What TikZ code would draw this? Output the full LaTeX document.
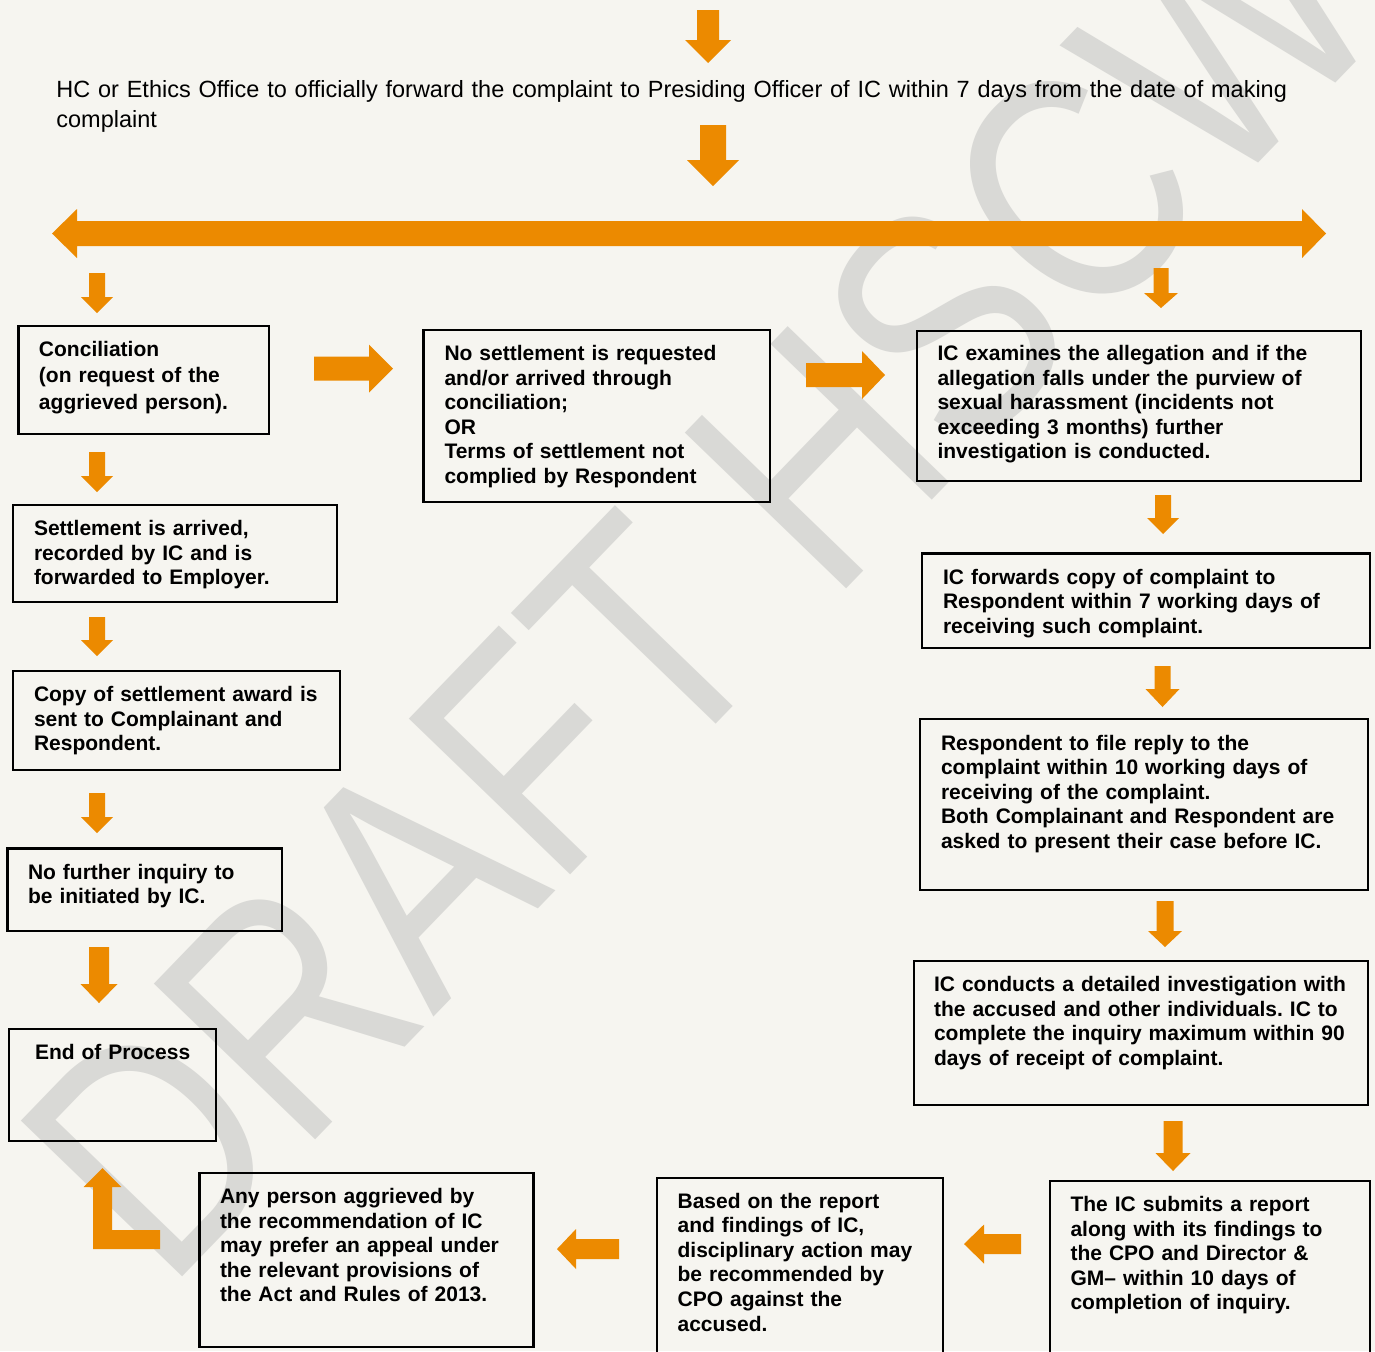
\documentclass[tikz,border=0pt]{standalone}
\usepackage{fontspec}
\setmainfont{Liberation Sans}
\frenchspacing
\definecolor{orng}{RGB}{236,138,0}
\definecolor{bgc}{RGB}{246,245,240}
\definecolor{wmgray}{RGB}{217,217,214}
\newdimen\pxu \pxu=0.5pt
\newcommand{\ArrD}[6]{\fill[orng] (#1-#4,#2) -- (#1+#4,#2) -- (#1+#4,#3-#6) -- (#1+#5,#3-#6) -- (#1,#3) -- (#1-#5,#3-#6) -- (#1-#4,#3-#6) -- cycle;}
\newcommand{\ArrR}[6]{\fill[orng] (#2,#1-#4) -- (#3-#6,#1-#4) -- (#3-#6,#1-#5) -- (#3,#1) -- (#3-#6,#1+#5) -- (#3-#6,#1+#4) -- (#2,#1+#4) -- cycle;}
\newcommand{\ArrL}[6]{\fill[orng] (#2,#1-#4) -- (#3+#6,#1-#4) -- (#3+#6,#1-#5) -- (#3,#1) -- (#3+#6,#1+#5) -- (#3+#6,#1+#4) -- (#2,#1+#4) -- cycle;}
\tikzset{
  boxst/.style={draw=black, line width=1.2pt, anchor=north west, inner sep=0pt, outer sep=0pt},
  btxt/.style={anchor=base west, inner sep=0pt, outer sep=0pt, text width=240pt, align=left,
    font=\bfseries\fontsize{10.5pt}{12.3pt}\selectfont},
  wm/.style={anchor=base west, inner sep=0pt, text=wmgray, font=\fontsize{132.5pt}{140pt}\selectfont},
}
\begin{document}
\begin{tikzpicture}[x=0.5pt,y=-0.5pt]
\useasboundingbox (0,0) rectangle (1375,1351);
\fill[bgc] (0,0) rectangle (1375,1351);
% watermark
\begin{scope}[shift={(167,1293)}]
\node[wm, rotate=46, yscale=1.23] (wmark) at (0,0) {DRAFT HSCW};
\end{scope}
% top
\ArrD{708}{10}{63}{11}{23}{23}
\node[anchor=base west, inner sep=0pt, text width=700pt, align=left, font=\fontsize{11.74pt}{15pt}\selectfont] (top) at (56,97)
  {HC or Ethics Office to officially forward the complaint to Presiding Officer of IC within 7 days from the date of making\\complaint};
\ArrD{713}{125}{186}{13}{26}{26}
\fill[orng] (52,233.5) -- (77,209) -- (77,221) -- (1302,221) -- (1302,209) -- (1326,233.5) -- (1302,258) -- (1302,246) -- (77,246) -- (77,258) -- cycle;
% left column arrows
\ArrD{97}{273}{313}{8}{16}{16}
\ArrD{97}{452}{492}{8}{16}{16}
\ArrD{97}{617}{656}{8}{16}{16}
\ArrD{97}{793}{833}{8}{16}{16}
\ArrD{99}{947}{1003}{10}{18.5}{19}
% right column arrows
\ArrD{1161}{268}{308}{7.5}{17}{15}
\ArrD{1163}{495}{534}{8}{16}{16}
\ArrD{1162.5}{666}{707}{8}{17}{18}
\ArrD{1165}{901}{947}{8.5}{17}{16}
\ArrD{1173}{1121}{1171}{9.5}{17.5}{18}
% horizontal arrows
\ArrR{368.5}{314}{393}{12}{24}{24}
\ArrR{375}{806}{885}{12}{24}{23}
\ArrL{1244}{1021}{964}{10}{19.5}{20}
\ArrL{1249}{619}{557}{10}{20}{19}
% L arrow
\fill[orng] (160,1230) -- (112,1230) -- (112,1187) -- (121.4,1187) -- (102.5,1168) -- (83.5,1187) -- (93,1187) -- (93,1249) -- (160,1249) -- cycle;
% boxes
\node[boxst, minimum width=250.5\pxu, minimum height=108\pxu] (b1) at (18.5,326) {};
\node[boxst, minimum width=324\pxu, minimum height=97\pxu] (b2) at (13,505) {};
\node[boxst, minimum width=327\pxu, minimum height=99\pxu] (b3) at (13,671) {};
\node[boxst, minimum width=274.5\pxu, minimum height=82.5\pxu] (b4) at (7.5,848.5) {};
\node[boxst, minimum width=207\pxu, minimum height=112\pxu] (b5) at (9,1029) {};
\node[boxst, minimum width=346.5\pxu, minimum height=172\pxu] (m1) at (423.5,330) {};
\node[boxst, minimum width=444\pxu, minimum height=150\pxu] (r1) at (917,331) {};
\node[boxst, minimum width=448\pxu, minimum height=94.5\pxu] (r2) at (922,553.5) {};
\node[boxst, minimum width=448\pxu, minimum height=171\pxu] (r3) at (920,719) {};
\node[boxst, minimum width=454\pxu, minimum height=144\pxu] (r4) at (913.7,961) {};
\node[boxst, minimum width=320\pxu, minimum height=179\pxu] (r5) at (1050,1181) {};
\node[boxst, minimum width=286\pxu, minimum height=182\pxu] (r6) at (657,1178) {};
\node[boxst, minimum width=334\pxu, minimum height=174\pxu] (r7) at (199.5,1173) {};
% texts
\node[btxt, font=\bfseries\fontsize{10.5pt}{13.25pt}\selectfont] (b1t) at (39,356) {Conciliation\\(on request of the\\aggrieved person).};
\node[btxt] (b2t) at (34,535.5) {Settlement is arrived,\\recorded by IC and is\\forwarded to Employer.};
\node[btxt] (b3t) at (34,701.5) {Copy of settlement award is\\sent to Complainant and\\Respondent.};
\node[btxt] (b4t) at (28,879) {No further inquiry to\\be initiated by IC.};
\node[btxt] (b5t) at (35,1059.5) {End of Process};
\node[btxt] (m1t) at (444.5,360.5) {No settlement is requested\\and/or arrived through\\conciliation;\\OR\\Terms of settlement not\\complied by Respondent};
\node[btxt] (r1t) at (937.5,360.5) {IC examines the allegation and if the\\allegation falls under the purview of\\sexual harassment (incidents not\\exceeding 3 months) further\\investigation is conducted.};
\node[btxt] (r2t) at (943,584) {IC forwards copy of complaint to\\Respondent within 7 working days of\\receiving such complaint.};
\node[btxt] (r3t) at (941,750) {Respondent to file reply to the\\complaint within 10 working days of\\receiving of the complaint.\\Both Complainant and Respondent are\\asked to present their case before IC.};
\node[btxt] (r4t) at (934,991.5) {IC conducts a detailed investigation with\\the accused and other individuals. IC to\\complete the inquiry maximum within 90\\days of receipt of complaint.};
\node[btxt] (r5t) at (1070.5,1211.5) {The IC submits a report\\along with its findings to\\the CPO and Director \&\\GM– within 10 days of\\completion of inquiry.};
\node[btxt] (r6t) at (677.6,1208) {Based on the report\\and findings of IC,\\disciplinary action may\\be recommended by\\CPO against the\\accused.};
\node[btxt] (r7t) at (220,1203.5) {Any person aggrieved by\\the recommendation of IC\\may prefer an appeal under\\the relevant provisions of\\the Act and Rules of 2013.};
\end{tikzpicture}
\end{document}
